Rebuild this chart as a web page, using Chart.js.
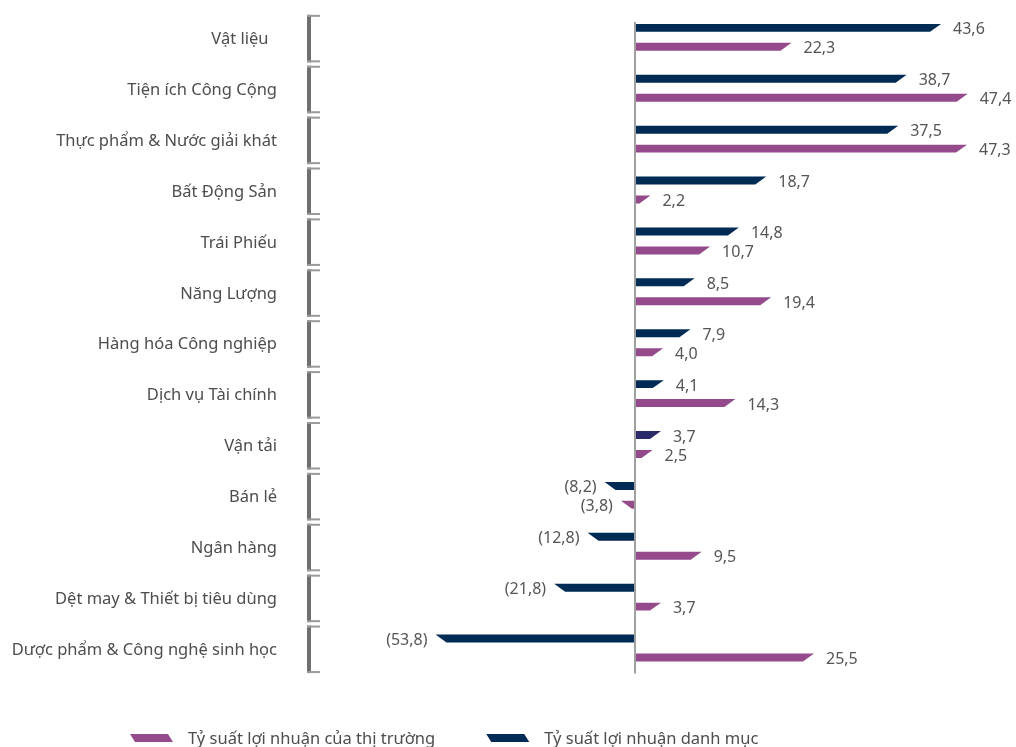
<!DOCTYPE html>
<html>
<head>
<meta charset="utf-8">
<script src="https://cdn.jsdelivr.net/npm/chart.js@4.4.1/dist/chart.umd.min.js"></script>
<style>
    html, body { margin: 0; padding: 0; background: #fff; }
    #wrap { width: 1016px; height: 747px; }
</style>
</head>
<body>
<div id="wrap"><canvas id="myChart"></canvas></div>
<script>
const categories = [
    'Vật liệu  ',
    'Tiện ích Công Cộng',
    'Thực phẩm & Nước giải khát',
    'Bất Động Sản',
    'Trái Phiếu',
    'Năng Lượng',
    'Hàng hóa Công nghiệp',
    'Dịch vụ Tài chính',
    'Vận tải',
    'Bán lẻ',
    'Ngân hàng',
    'Dệt may & Thiết bị tiêu dùng',
    'Dược phẩm & Công nghệ sinh học'
];
const portfolioReturns = [43.6, 38.7, 37.5, 18.7, 14.8, 8.5, 7.9, 4.1, 3.7, -8.2, -12.8, -21.8, -53.8];
const marketReturns = [22.3, 47.4, 47.3, 2.2, 10.7, 19.4, 4.0, 14.3, 2.5, -3.8, 9.5, 3.7, 25.5];
const seriesNames = ['Tỷ suất lợi nhuận danh mục', 'Tỷ suất lợi nhuận của thị trường'];

const NAVY = '#002b55';
const NAVY_ALT = '#2b2a6b';
const PURPLE = '#954a8c';
const SLANT = 11;
const FONT = '"Noto Sans", "Open Sans", sans-serif';

// negative side of the axis is squeezed, like in the original picture
class SplitScale extends Chart.LinearScale {
    zeroPixel() {
        return this.left + this.width * this.options.zeroAt;
    }
    getPixelForValue(value) {
        const zero = this.zeroPixel();
        if (value >= 0) return zero + value / this.max * (this.right - zero);
        return zero - value / this.min * (zero - this.left);
    }
    getValueForPixel(pixel) {
        const zero = this.zeroPixel();
        if (pixel >= zero) return (pixel - zero) / (this.right - zero) * this.max;
        return (zero - pixel) / (zero - this.left) * this.min;
    }
}
SplitScale.id = 'split';
SplitScale.defaults = {};
Chart.register(SplitScale);

function fmt(v) {
    const s = Math.abs(v).toFixed(1).replace('.', ',');
    return v < 0 ? '(' + s + ')' : s;
}

const slantBars = {
    id: 'slantBars',
    beforeDatasetsDraw(chart) {
        const ctx = chart.ctx;
        ctx.save();
        chart.data.datasets.forEach((ds, di) => {
            chart.getDatasetMeta(di).data.forEach((bar) => {
                const { x, y, base, height } = bar.getProps(['x', 'y', 'base', 'height'], true);
                const dir = x >= base ? 1 : -1;
                const half = height / 2;
                ctx.fillStyle = bar.options.backgroundColor;
                ctx.beginPath();
                ctx.moveTo(base, y - half);
                ctx.lineTo(x, y - half);
                ctx.lineTo(x - dir * SLANT, y + half);
                ctx.lineTo(base, y + half);
                ctx.closePath();
                ctx.fill();
            });
        });
        ctx.restore();
        return false; // skip default rectangles
    },
    afterDraw(chart) {
        const ctx = chart.ctx;
        const xs = chart.scales.x;
        const ys = chart.scales.y;
        const area = chart.chartArea;
        ctx.save();

        // brackets next to category names
        categories.forEach((c, i) => {
            const cy = ys.getPixelForValue(i);
            const top = cy - 22.5, bottom = cy + 25;
            ctx.fillStyle = '#6f6f6f';
            ctx.fillRect(307, top, 4, bottom - top);
            ctx.fillStyle = '#9a9a9a';
            ctx.fillRect(307, top, 13, 2);
            ctx.fillRect(307, bottom - 2, 13, 2);
        });

        // zero line
        const zx = xs.getPixelForValue(0);
        ctx.strokeStyle = '#a0a0a0';
        ctx.lineWidth = 2;
        ctx.beginPath();
        ctx.moveTo(zx, area.top + 10);
        ctx.lineTo(zx, area.bottom);
        ctx.stroke();

        // value labels
        ctx.font = '16px ' + FONT;
        ctx.fillStyle = '#555555';
        ctx.textBaseline = 'middle';
        chart.data.datasets.forEach((ds, di) => {
            chart.getDatasetMeta(di).data.forEach((bar, i) => {
                const v = ds.data[i];
                const { x, y } = bar.getProps(['x', 'y'], true);
                if (v >= 0) {
                    ctx.textAlign = 'left';
                    ctx.fillText(fmt(v), x + 12, y + 2);
                } else {
                    ctx.textAlign = 'right';
                    ctx.fillText(fmt(v), x - 8, y + 2);
                }
            });
        });

        // legend, market first
        ctx.font = '16.5px ' + FONT;
        ctx.textAlign = 'left';
        let lx = 130;
        const ly = 738;
        [1, 0].forEach((di) => {
            const ds = chart.data.datasets[di];
            ctx.fillStyle = di === 0 ? NAVY : PURPLE;
            ctx.beginPath();
            ctx.moveTo(lx, ly - 4);
            ctx.lineTo(lx + 38, ly - 4);
            ctx.lineTo(lx + 43, ly + 4);
            ctx.lineTo(lx + 5, ly + 4);
            ctx.closePath();
            ctx.fill();
            ctx.fillStyle = '#4d4d4d';
            ctx.fillText(ds.label, lx + 58, ly + 1);
            lx += 58 + ctx.measureText(ds.label).width + 51;
        });
        ctx.restore();
    }
};

document.addEventListener('DOMContentLoaded', function () {
    let ctx = document.getElementById('myChart').getContext('2d');
    new Chart(ctx, {
        type: 'bar',
        data: {
            labels: categories,
            datasets: [{
                label: seriesNames[0],
                data: portfolioReturns,
                backgroundColor: (c) => c.dataIndex === 8 ? NAVY_ALT : NAVY,
                categoryPercentage: 0.745,
                barPercentage: 0.42
            }, {
                label: seriesNames[1],
                data: marketReturns,
                backgroundColor: PURPLE,
                categoryPercentage: 0.745,
                barPercentage: 0.42
            }]
        },
        options: {
            indexAxis: 'y',
            responsive: true,
            maintainAspectRatio: false,
            animation: false,
            layout: {
                padding: { top: 10.5, bottom: 73.5, left: 0, right: 16 }
            },
            plugins: {
                legend: { display: false },
                tooltip: { enabled: false }
            },
            scales: {
                x: {
                    type: 'split',
                    display: false,
                    min: -96,
                    max: 52,
                    zeroAt: (635 - 279) / (1000 - 279)
                },
                y: {
                    grid: { display: false, drawTicks: false },
                    border: { display: false },
                    ticks: {
                        autoSkip: false,
                        padding: 2,
                        labelOffset: 2,
                        color: '#4d4d4d',
                        font: { family: FONT, size: 16.5 }
                    },
                    afterFit: function (scale) {
                        scale.width = 279; // labels end at x=277
                    }
                }
            }
        },
        plugins: [slantBars]
    });
});
</script>
</body>
</html>
